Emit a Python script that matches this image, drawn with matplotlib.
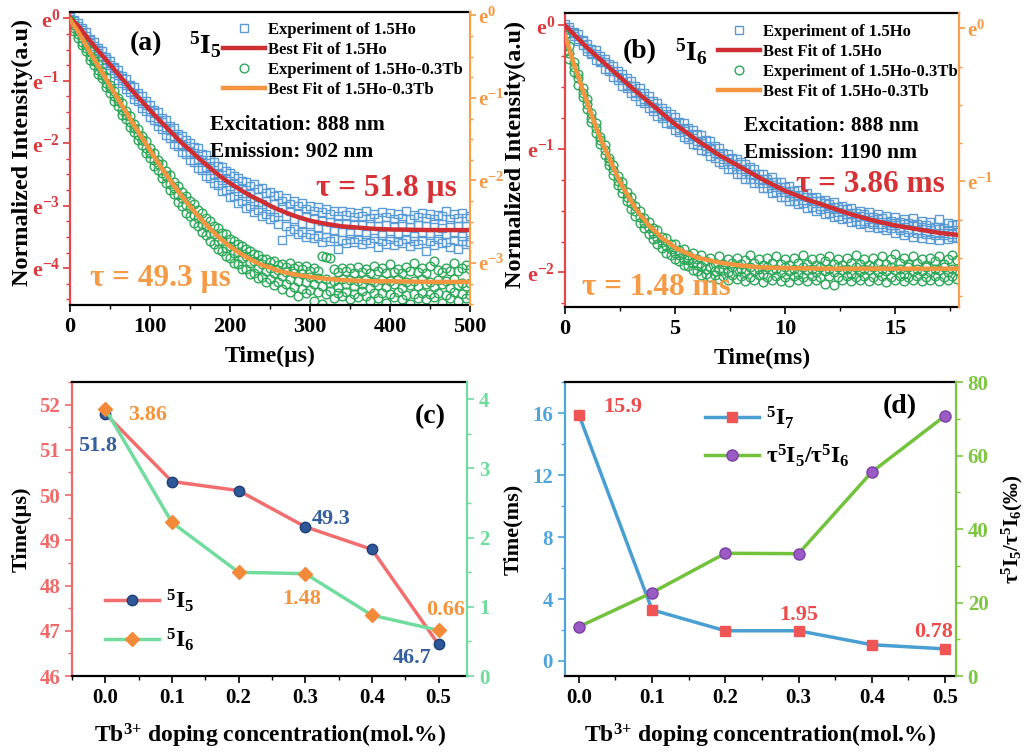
import numpy as np
import matplotlib.pyplot as plt
from matplotlib.ticker import MultipleLocator, FuncFormatter

plt.rcParams['font.family'] = ['Liberation Serif', 'DejaVu Serif']
plt.rcParams['font.weight'] = 'bold'
plt.rcParams['axes.labelweight'] = 'bold'
plt.rcParams['mathtext.default'] = 'regular'

# ---------------- (a) 5I5 decay, ln(I) values ----------------
t_a = np.arange(0, 505, 5)  # us
ho_a_1 = [0.02, -0.03, -0.07, -0.16, -0.22, -0.33, -0.38, -0.47, -0.52, -0.62,
          -0.68, -0.78, -0.82, -0.92, -0.97, -1.06, -1.10, -1.20, -1.24, -1.33,
          -1.38, -1.47, -1.50, -1.60, -1.63, -1.72, -1.76, -1.85, -1.88, -1.95,
          -1.99, -2.06, -2.08, -2.17, -2.19, -2.27, -2.30, -2.36, -2.38, -2.45,
          -2.47, -2.52, -2.55, -2.60, -2.62, -2.68, -2.66, -2.74, -2.72, -2.80,
          -2.78, -2.85, -2.83, -2.92, -2.88, -2.97, -2.93, -3.00, -2.96, -3.05,
          -3.00, -3.08, -3.02, -3.10, -3.05, -3.13, -3.08, -3.16, -3.09, -3.15,
          -3.10, -3.18, -3.12, -3.17, -3.08, -3.19, -3.13, -3.20, -3.10, -3.18,
          -3.12, -3.21, -3.14, -3.19, -3.08, -3.22, -3.15, -3.18, -3.11, -3.20,
          -3.13, -3.21, -3.15, -3.17, -3.09, -3.22, -3.14, -3.19, -3.12, -3.20,
          -3.16]
ho_a_2 = [-0.04, -0.10, -0.17, -0.24, -0.34, -0.40, -0.51, -0.56, -0.67, -0.72,
          -0.82, -0.88, -0.98, -1.03, -1.13, -1.18, -1.29, -1.33, -1.43, -1.48,
          -1.58, -1.62, -1.73, -1.77, -1.87, -1.91, -2.01, -2.04, -2.14, -2.18,
          -2.27, -2.30, -2.40, -2.43, -2.52, -2.55, -2.64, -2.67, -2.76, -2.75,
          -2.86, -2.85, -2.95, -2.93, -3.03, -3.00, -3.10, -3.07, -3.16, -3.13,
          -3.21, -3.18, -3.30, -3.55, -3.33, -3.40, -3.37, -3.46, -3.42, -3.50,
          -3.45, -3.52, -3.48, -3.58, -3.50, -3.56, -3.52, -3.70, -3.55, -3.60,
          -3.54, -3.58, -3.53, -3.62, -3.55, -3.60, -3.52, -3.66, -3.56, -3.61,
          -3.54, -3.63, -3.57, -3.60, -3.53, -3.64, -3.56, -3.62, -3.55, -3.72,
          -3.57, -3.63, -3.54, -3.60, -3.58, -3.66, -3.55, -3.70, -3.57, -3.62,
          -3.58]
ho_a_3 = [-0.01, -0.05, -0.13, -0.19, -0.29, -0.35, -0.45, -0.50, -0.60, -0.65,
          -0.75, -0.80, -0.91, -0.95, -1.06, -1.09, -1.21, -1.24, -1.35, -1.38,
          -1.49, -1.52, -1.64, -1.66, -1.77, -1.79, -1.90, -1.92, -2.03, -2.04,
          -2.14, -2.15, -2.26, -2.27, -2.38, -2.36, -2.49, -2.47, -2.59, -2.56,
          -2.69, -2.64, -2.77, -2.72, -2.85, -2.80, -2.92, -2.86, -2.98, -2.92,
          -3.05, -2.98, -3.10, -3.02, -3.16, -3.08, -3.22, -3.12, -3.27, -3.17,
          -3.30, -3.20, -3.34, -3.24, -3.38, -3.26, -3.40, -3.28, -3.42, -3.30,
          -3.44, -3.29, -3.42, -3.31, -3.46, -3.30, -3.43, -3.33, -3.47, -3.31,
          -3.44, -3.32, -3.46, -3.30, -3.42, -3.34, -3.48, -3.31, -3.44, -3.33,
          -3.47, -3.30, -3.43, -3.35, -3.46, -3.31, -3.44, -3.33, -3.48, -3.32,
          -3.42]
hotb_a_1 = [-0.02, -0.10, -0.21, -0.31, -0.43, -0.52, -0.65, -0.73, -0.86, -0.94,
            -1.07, -1.16, -1.28, -1.36, -1.49, -1.57, -1.69, -1.77, -1.89, -1.97,
            -2.08, -2.15, -2.27, -2.33, -2.45, -2.51, -2.62, -2.68, -2.78, -2.84,
            -2.93, -2.98, -3.07, -3.12, -3.20, -3.24, -3.32, -3.36, -3.44, -3.46,
            -3.54, -3.56, -3.62, -3.64, -3.70, -3.72, -3.78, -3.79, -3.85, -3.86,
            -3.90, -3.88, -3.95, -3.93, -3.98, -3.92, -4.00, -3.97, -4.02, -3.96,
            -4.04, -3.99, -4.05, -3.80, -3.82, -3.84, -4.02, -4.06, -3.99, -4.05,
            -4.00, -4.07, -3.98, -4.06, -4.01, -4.08, -3.97, -4.05, -4.00, -4.07,
            -3.94, -4.06, -4.01, -4.08, -3.98, -4.04, -3.92, -4.06, -4.00, -4.07,
            -3.96, -3.88, -4.03, -4.06, -3.99, -4.05, -3.92, -4.04, -4.00, -3.95,
            -4.02]
hotb_a_2 = [-0.08, -0.20, -0.31, -0.43, -0.53, -0.66, -0.75, -0.89, -0.96, -1.10,
            -1.19, -1.32, -1.40, -1.54, -1.61, -1.74, -1.82, -1.95, -2.03, -2.15,
            -2.24, -2.36, -2.43, -2.56, -2.63, -2.75, -2.82, -2.94, -3.00, -3.11,
            -3.17, -3.27, -3.33, -3.42, -3.47, -3.56, -3.61, -3.70, -3.73, -3.81,
            -3.84, -3.92, -3.93, -4.01, -4.02, -4.10, -4.08, -4.16, -4.14, -4.22,
            -4.18, -4.27, -4.22, -4.33, -4.26, -4.38, -4.30, -4.45, -4.33, -4.40,
            -4.35, -4.52, -4.38, -4.57, -4.42, -4.36, -4.48, -4.40, -4.45, -4.38,
            -4.50, -4.41, -4.46, -4.37, -4.44, -4.52, -4.40, -4.47, -4.39, -4.55,
            -4.42, -4.46, -4.38, -4.49, -4.43, -4.58, -4.41, -4.47, -4.39, -4.50,
            -4.42, -4.46, -4.40, -4.55, -4.43, -4.48, -4.38, -4.52, -4.41, -4.47,
            -4.43]
hotb_a_3 = [-0.04, -0.16, -0.25, -0.38, -0.47, -0.60, -0.69, -0.82, -0.90, -1.03,
            -1.12, -1.25, -1.33, -1.46, -1.54, -1.66, -1.75, -1.87, -1.95, -2.07,
            -2.15, -2.27, -2.34, -2.47, -2.53, -2.65, -2.71, -2.83, -2.88, -2.99,
            -3.03, -3.15, -3.19, -3.30, -3.32, -3.43, -3.45, -3.56, -3.57, -3.67,
            -3.65, -3.76, -3.74, -3.84, -3.81, -3.92, -3.88, -3.99, -3.94, -4.05,
            -3.99, -4.08, -4.03, -4.13, -4.06, -4.17, -4.08, -4.20, -4.10, -4.22,
            -4.14, -4.25, -4.16, -4.28, -4.18, -4.24, -4.20, -4.30, -4.17, -4.26,
            -4.19, -4.29, -4.21, -4.25, -4.18, -4.31, -4.22, -4.27, -4.19, -4.30,
            -4.21, -4.26, -4.18, -4.32, -4.22, -4.27, -4.20, -4.29, -4.17, -4.25,
            -4.22, -4.30, -4.19, -4.26, -4.21, -4.31, -4.18, -4.27, -4.23, -4.28,
            -4.24]
fit_t_a = [0, 10, 20, 30, 40, 50, 60, 70, 80, 90, 100, 110, 120, 130, 140, 150,
           160, 170, 180, 190, 200, 210, 220, 230, 240, 250, 260, 270, 280, 290,
           300, 320, 340, 360, 380, 400, 450, 500]
fit_ho_a = [0, -0.12, -0.28, -0.44, -0.59, -0.74, -0.89, -1.04, -1.19, -1.33,
            -1.47, -1.61, -1.74, -1.87, -2.00, -2.11, -2.23, -2.34, -2.45, -2.55,
            -2.64, -2.72, -2.80, -2.87, -2.93, -3.00, -3.06, -3.11, -3.16, -3.20,
            -3.24, -3.29, -3.33, -3.35, -3.37, -3.38, -3.39, -3.39]
fit_hotb_a = [-0.02, -0.21, -0.43, -0.65, -0.86, -1.08, -1.29, -1.50, -1.71, -1.91,
              -2.11, -2.31, -2.50, -2.68, -2.85, -3.01, -3.16, -3.30, -3.43, -3.55,
              -3.65, -3.74, -3.82, -3.89, -3.95, -3.99, -4.04, -4.07, -4.10, -4.12,
              -4.14, -4.17, -4.19, -4.20, -4.21, -4.21, -4.22, -4.22]

# ---------------- (b) 5I6 decay ----------------
t_b = np.round(np.arange(0, 17.81, 0.2), 1)  # ms
ho_b_1 = [0.01, -0.01, -0.05, -0.07, -0.12, -0.15, -0.19, -0.20, -0.25, -0.27,
          -0.31, -0.33, -0.37, -0.39, -0.43, -0.45, -0.49, -0.51, -0.55, -0.57,
          -0.61, -0.63, -0.67, -0.69, -0.72, -0.74, -0.78, -0.79, -0.83, -0.85,
          -0.88, -0.89, -0.93, -0.94, -0.98, -0.99, -1.03, -1.04, -1.07, -1.08,
          -1.11, -1.12, -1.15, -1.16, -1.20, -1.20, -1.24, -1.23, -1.27, -1.27,
          -1.31, -1.30, -1.34, -1.33, -1.37, -1.36, -1.40, -1.39, -1.42, -1.41,
          -1.45, -1.43, -1.47, -1.46, -1.49, -1.48, -1.52, -1.50, -1.53, -1.51,
          -1.55, -1.53, -1.56, -1.54, -1.58, -1.55, -1.59, -1.57, -1.60, -1.56,
          -1.61, -1.58, -1.62, -1.59, -1.63, -1.57, -1.64, -1.60, -1.62, -1.61]
ho_b_2 = [-0.03, -0.06, -0.09, -0.13, -0.16, -0.21, -0.23, -0.28, -0.30, -0.35,
          -0.37, -0.42, -0.44, -0.49, -0.51, -0.55, -0.57, -0.61, -0.63, -0.67,
          -0.69, -0.73, -0.75, -0.79, -0.80, -0.85, -0.86, -0.90, -0.92, -0.96,
          -0.97, -1.01, -1.02, -1.06, -1.07, -1.11, -1.12, -1.16, -1.16, -1.20,
          -1.20, -1.24, -1.24, -1.28, -1.28, -1.32, -1.32, -1.36, -1.35, -1.39,
          -1.39, -1.42, -1.42, -1.45, -1.44, -1.48, -1.47, -1.50, -1.49, -1.53,
          -1.52, -1.55, -1.54, -1.57, -1.56, -1.59, -1.58, -1.61, -1.60, -1.63,
          -1.61, -1.64, -1.63, -1.66, -1.64, -1.68, -1.66, -1.70, -1.67, -1.71,
          -1.68, -1.72, -1.69, -1.73, -1.70, -1.74, -1.70, -1.73, -1.71, -1.72]
ho_b_3 = [-0.01, -0.04, -0.06, -0.11, -0.13, -0.18, -0.22, -0.23, -0.29, -0.30,
          -0.35, -0.37, -0.42, -0.43, -0.48, -0.49, -0.54, -0.55, -0.60, -0.61,
          -0.66, -0.67, -0.72, -0.73, -0.78, -0.79, -0.83, -0.84, -0.88, -0.89,
          -0.94, -0.94, -0.98, -0.99, -1.03, -1.04, -1.08, -1.08, -1.12, -1.12,
          -1.16, -1.16, -1.20, -1.20, -1.24, -1.24, -1.28, -1.27, -1.31, -1.31,
          -1.35, -1.34, -1.38, -1.37, -1.41, -1.39, -1.42, -1.42, -1.46, -1.44,
          -1.48, -1.47, -1.51, -1.49, -1.53, -1.52, -1.55, -1.54, -1.58, -1.55,
          -1.59, -1.57, -1.61, -1.59, -1.62, -1.60, -1.64, -1.61, -1.65, -1.62,
          -1.66, -1.63, -1.67, -1.64, -1.68, -1.65, -1.68, -1.66, -1.69, -1.66]
hotb_b_1 = [-0.08, -0.17, -0.30, -0.39, -0.51, -0.60, -0.71, -0.79, -0.90, -0.97,
            -1.07, -1.13, -1.22, -1.27, -1.35, -1.39, -1.46, -1.50, -1.56, -1.59,
            -1.64, -1.66, -1.71, -1.72, -1.77, -1.77, -1.82, -1.81, -1.86, -1.84,
            -1.89, -1.86, -1.91, -1.88, -1.92, -1.87, -1.93, -1.89, -1.92, -1.88,
            -1.93, -1.90, -1.86, -1.92, -1.89, -1.94, -1.88, -1.92, -1.87, -1.93,
            -1.89, -1.94, -1.88, -1.92, -1.86, -1.93, -1.89, -1.94, -1.88, -1.91,
            -1.87, -1.93, -1.89, -1.94, -1.88, -1.92, -1.86, -1.93, -1.89, -1.94,
            -1.88, -1.92, -1.87, -1.93, -1.89, -1.85, -1.92, -1.88, -1.93, -1.87,
            -1.92, -1.89, -1.94, -1.88, -1.91, -1.87, -1.93, -1.89, -1.86, -1.90]
hotb_b_2 = [-0.20, -0.27, -0.38, -0.48, -0.58, -0.68, -0.78, -0.87, -0.96, -1.05,
            -1.13, -1.21, -1.29, -1.36, -1.42, -1.49, -1.54, -1.60, -1.64, -1.69,
            -1.73, -1.77, -1.80, -1.84, -1.86, -1.89, -1.91, -1.94, -1.95, -1.98,
            -1.99, -2.02, -2.01, -2.04, -2.02, -2.05, -2.03, -2.06, -2.02, -2.05,
            -2.03, -2.07, -2.04, -2.06, -2.02, -2.08, -2.04, -2.06, -2.03, -2.07,
            -2.04, -2.08, -2.03, -2.06, -2.04, -2.07, -2.03, -2.06, -2.04, -2.09,
            -2.03, -2.10, -2.04, -2.06, -2.03, -2.07, -2.04, -2.06, -2.03, -2.07,
            -2.04, -2.06, -2.03, -2.08, -2.04, -2.06, -2.03, -2.07, -2.04, -2.06,
            -2.03, -2.07, -2.04, -2.06, -2.03, -2.07, -2.04, -2.06, -2.03, -2.05]
hotb_b_3 = [-0.14, -0.22, -0.34, -0.43, -0.55, -0.64, -0.75, -0.83, -0.93, -1.01,
            -1.10, -1.17, -1.26, -1.32, -1.39, -1.44, -1.50, -1.55, -1.60, -1.64,
            -1.68, -1.72, -1.75, -1.79, -1.81, -1.84, -1.86, -1.89, -1.90, -1.92,
            -1.94, -1.95, -1.97, -1.96, -1.99, -1.97, -1.98, -2.00, -1.96, -1.99,
            -1.97, -2.00, -1.96, -1.99, -1.97, -2.01, -1.96, -1.98, -1.97, -2.00,
            -1.96, -1.99, -1.97, -2.01, -1.96, -1.98, -1.97, -2.00, -1.96, -1.99,
            -1.97, -2.00, -1.96, -1.98, -1.97, -2.01, -1.96, -1.99, -1.97, -1.98,
            -1.96, -2.00, -1.97, -1.99, -1.96, -1.98, -1.97, -2.01, -1.96, -1.99,
            -1.97, -1.99, -1.96, -2.00, -1.97, -1.98, -1.96, -2.00, -1.97, -1.98]
fit_t_ho_b = [0, 1, 2, 3, 4, 5, 6, 7, 8, 9, 10, 11, 12, 13, 14, 15, 16, 17, 18]
fit_ho_b = [0, -0.18, -0.34, -0.50, -0.65, -0.80, -0.93, -1.05, -1.15, -1.25,
            -1.34, -1.41, -1.47, -1.53, -1.58, -1.62, -1.65, -1.68, -1.70]
fit_t_hotb_b = [0, 0.2, 0.4, 0.6, 0.8, 1.0, 1.2, 1.4, 1.6, 1.8, 2.0, 2.2, 2.4, 2.6,
                2.8, 3.0, 3.2, 3.4, 3.6, 3.8, 4.0, 4.4, 4.8, 5.0, 5.5, 6, 6.5, 7,
                8, 9, 10, 12, 14, 16, 18]
fit_hotb_b = [-0.08, -0.19, -0.31, -0.41, -0.52, -0.62, -0.72, -0.82, -0.91, -0.99,
              -1.07, -1.15, -1.23, -1.30, -1.36, -1.42, -1.48, -1.53, -1.57, -1.62,
              -1.65, -1.72, -1.77, -1.80, -1.84, -1.88, -1.90, -1.92, -1.945, -1.96,
              -1.965, -1.97, -1.97, -1.97, -1.97]

# ---------------- (c), (d) lifetimes vs Tb3+ ----------------
conc = [0.0, 0.1, 0.2, 0.3, 0.4, 0.5]
tau_i5 = [51.8, 50.3, 50.1, 49.3, 48.8, 46.7]   # us
tau_i6 = [3.86, 2.22, 1.50, 1.48, 0.88, 0.66]   # ms
tau_i7 = [15.9, 3.3, 1.95, 1.95, 1.05, 0.78]    # ms
ratio = [13.4, 22.7, 33.4, 33.3, 55.5, 70.8]    # per mille


def e_fmt(v, pos):
    return 'e$^{%d}$' % int(round(v))


RED, ORANGE = '#dc3a3e', '#f59a45'
BLUE_SQ, GREEN_C = '#5b9bd5', '#2ea85a'
FIT_RED, FIT_OR = '#cf2f32', '#f5953f'

fig = plt.figure(figsize=(10.29, 7.55), dpi=100)


def decay_panel(rect, t, blue_sets, green_sets, ft1, f1, ft2, f2, xlim, ylim, ylim_r, xmaj, xmin):
    ax = fig.add_axes(rect)
    for k, d in enumerate(blue_sets):
        ax.plot(t, d, ls='none', marker='s', ms=5.8, mfc='none', mec=BLUE_SQ, mew=1,
                label='Experiment of 1.5Ho' if k == 0 else None, zorder=2)
    for k, g in enumerate(green_sets):
        ax.plot(t, g, ls='none', marker='o', ms=6.3, mfc='none', mec=GREEN_C, mew=1,
                label='Experiment of 1.5Ho-0.3Tb' if k == 0 else None, zorder=2)
    ax.plot(ft1, f1, color=FIT_RED, lw=3.2, label='Best Fit of 1.5Ho', zorder=4)
    ax.plot(ft2, f2, color=FIT_OR, lw=3.2, label='Best Fit of 1.5Ho-0.3Tb', zorder=4)
    ax.set_xlim(*xlim)
    ax.set_ylim(*ylim)
    ax.xaxis.set_major_locator(MultipleLocator(xmaj))
    ax.xaxis.set_minor_locator(MultipleLocator(xmin))
    ax.yaxis.set_major_locator(MultipleLocator(1))
    ax.yaxis.set_minor_locator(MultipleLocator(0.25))
    ax.yaxis.set_major_formatter(FuncFormatter(e_fmt))
    ax.tick_params(axis='y', which='both', colors=RED, labelsize=16, pad=2)
    ax.tick_params(axis='x', labelsize=16)
    ax.tick_params(which='major', length=5, width=1.2)
    ax.tick_params(which='minor', length=3, width=1)
    ax.spines['left'].set_color('#e2474b')
    ax.spines['right'].set_visible(False)
    for s in ('left', 'top', 'bottom'):
        ax.spines[s].set_linewidth(1.6)
    tw = ax.twinx()
    tw.set_ylim(*ylim_r)
    tw.yaxis.set_major_locator(MultipleLocator(1))
    tw.yaxis.set_minor_locator(MultipleLocator(0.25))
    tw.yaxis.set_major_formatter(FuncFormatter(e_fmt))
    tw.tick_params(axis='y', which='both', colors=ORANGE, labelsize=15, pad=1.5)
    tw.tick_params(which='major', length=4.5, width=1.2)
    tw.tick_params(which='minor', length=2.5, width=1)
    for s in ('left', 'top', 'bottom'):
        tw.spines[s].set_visible(False)
    tw.spines['right'].set_color('#f7a04b')
    tw.spines['right'].set_linewidth(1.6)
    h, l = ax.get_legend_handles_labels()
    order = [0, 2, 1, 3]
    return ax, [h[i] for i in order], [l[i] for i in order]


LEG_KW = dict(loc='upper left', frameon=False, fontsize=12, handlelength=2.5,
              handletextpad=0.2, labelspacing=0.24, borderpad=0, borderaxespad=0)

# (a)
ax_a, h, l = decay_panel([0.068, 0.596, 0.3887, 0.388], t_a,
                         (ho_a_1, ho_a_2, ho_a_3), (hotb_a_1, hotb_a_2, hotb_a_3),
                         fit_t_a, fit_ho_a, fit_t_a, fit_hotb_a,
                         (0, 500), (-4.59, 0.1), (-3.51, 0.04), 100, 50)
ax_a.legend(h, l, bbox_to_anchor=(0.3825, 0.965), **LEG_KW)
ax_a.set_xlabel('Time(µs)', fontsize=17)
ax_a.xaxis.set_label_coords(0.5, -0.14)
ax_a.set_ylabel('Normalized Intensity(a.u)', fontsize=17.5)
ax_a.yaxis.set_label_coords(-0.0925, 0.52)
ax_a.text(0.19, 0.894, '(a)', transform=ax_a.transAxes, fontsize=20, ha='center', va='center')
ax_a.text(0.338, 0.887, r'$^{5}$I$_{5}$', transform=ax_a.transAxes, fontsize=20, ha='center', va='center')
ax_a.text(0.35, 0.614, 'Excitation: 888 nm', transform=ax_a.transAxes, fontsize=15.5, va='center')
ax_a.text(0.35, 0.522, 'Emission: 902 nm', transform=ax_a.transAxes, fontsize=15.5, va='center')
ax_a.text(0.9675, 0.399, 'τ = 51.8 µs', transform=ax_a.transAxes, fontsize=22.5,
          color='#d63235', ha='right', va='center')
ax_a.text(0.05, 0.092, 'τ = 49.3 µs', transform=ax_a.transAxes, fontsize=22.5,
          color=ORANGE, ha='left', va='center')

# (b)
ax_b, h, l = decay_panel([0.549, 0.5934, 0.383, 0.3894], t_b,
                         (ho_b_1, ho_b_2, ho_b_3), (hotb_b_1, hotb_b_2, hotb_b_3),
                         fit_t_ho_b, fit_ho_b, fit_t_hotb_b, fit_hotb_b,
                         (0, 17.9), (-2.28, 0.1), (-1.82, 0.1), 5, 2.5)
ax_b.legend(h, l, bbox_to_anchor=(0.388, 0.962), **LEG_KW)
ax_b.set_xlabel('Time(ms)', fontsize=17)
ax_b.xaxis.set_label_coords(0.5, -0.14)
ax_b.set_ylabel('Normalized Intensity(a.u)', fontsize=17.5)
ax_b.yaxis.set_label_coords(-0.099, 0.52)
ax_b.text(0.19, 0.867, '(b)', transform=ax_b.transAxes, fontsize=20, ha='center', va='center')
ax_b.text(0.322, 0.867, r'$^{5}$I$_{6}$', transform=ax_b.transAxes, fontsize=20, ha='center', va='center')
ax_b.text(0.454, 0.616, 'Excitation: 888 nm', transform=ax_b.transAxes, fontsize=15.5, va='center')
ax_b.text(0.454, 0.524, 'Emission: 1190 nm', transform=ax_b.transAxes, fontsize=15.5, va='center')
ax_b.text(0.964, 0.415, 'τ = 3.86 ms', transform=ax_b.transAxes, fontsize=22.5,
          color='#d63235', ha='right', va='center')
ax_b.text(0.043, 0.065, 'τ = 1.48 ms', transform=ax_b.transAxes, fontsize=22.5,
          color=ORANGE, ha='left', va='center')


def style_pair(ax, tw, lcol, rcol):
    ax.spines['left'].set_color(lcol)
    ax.spines['right'].set_visible(False)
    for s in ('left', 'top', 'bottom'):
        ax.spines[s].set_linewidth(1.6)
    for s in ('left', 'top', 'bottom'):
        tw.spines[s].set_visible(False)
    tw.spines['right'].set_color(rcol)
    tw.spines['right'].set_linewidth(1.6)
    ax.tick_params(axis='y', which='both', colors=lcol, labelsize=15)
    tw.tick_params(axis='y', which='both', colors=rcol, labelsize=15)
    ax.tick_params(axis='x', labelsize=15)
    for a in (ax, tw):
        a.tick_params(which='major', length=5, width=1.2)
        a.tick_params(which='minor', length=3, width=1)
    ax.xaxis.set_major_locator(MultipleLocator(0.1))
    ax.xaxis.set_minor_locator(MultipleLocator(0.05))
    ax.xaxis.set_major_formatter(FuncFormatter(lambda v, p: '%.1f' % v))


XLAB = 'Tb$^{3{+}}$ doping concentration(mol.%)'

# (c)
ax_c = fig.add_axes([0.070, 0.1046, 0.384, 0.3894])
tw_c = ax_c.twinx()
l1, = ax_c.plot(conc, tau_i5, color='#f26e6e', lw=2.5, marker='o', ms=7.5,
                mfc='#2d5797', mec='#1f3f78', label=r'$^{5}$I$_{5}$', zorder=3)
l2, = tw_c.plot(conc, tau_i6, color='#72dc9e', lw=2.5, marker='D', ms=7,
                mfc='#f28a3a', mec='#f28a3a', label=r'$^{5}$I$_{6}$', zorder=3)
ax_c.set_xlim(-0.05, 0.543)
ax_c.set_ylim(46, 52.5)
tw_c.set_ylim(0, 4.25)
ax_c.yaxis.set_major_locator(MultipleLocator(1))
ax_c.yaxis.set_minor_locator(MultipleLocator(0.5))
tw_c.yaxis.set_major_locator(MultipleLocator(1))
tw_c.yaxis.set_minor_locator(MultipleLocator(0.5))
style_pair(ax_c, tw_c, '#f06a6a', '#6fdc9c')
ax_c.set_xlabel(XLAB, fontsize=17)
ax_c.xaxis.set_label_coords(0.5, -0.156)
ax_c.set_ylabel('Time(µs)', fontsize=16, color='black')
ax_c.yaxis.set_label_coords(-0.101, 0.5)
tw_c.legend([l1, l2], [l1.get_label(), l2.get_label()], loc='upper left',
            bbox_to_anchor=(0.0835, 0.30), frameon=False, fontsize=17,
            handlelength=2.3, handletextpad=0.3, labelspacing=0.5,
            borderpad=0, borderaxespad=0)
tw_c.text(0.906, 0.881, '(c)', transform=tw_c.transAxes, fontsize=20, ha='center', va='center')
C_BLUE, C_OR = '#35609f', '#f5943c'
ax_c.text(-0.012, 51.08, '51.8', color=C_BLUE, fontsize=16, ha='center', va='center')
ax_c.text(0.339, 49.47, '49.3', color=C_BLUE, fontsize=16, ha='center', va='center')
ax_c.text(0.461, 46.39, '46.7', color=C_BLUE, fontsize=16, ha='center', va='center')
tw_c.text(0.063, 3.77, '3.86', color=C_OR, fontsize=16, ha='center', va='center')
tw_c.text(0.294, 1.12, '1.48', color=C_OR, fontsize=16, ha='center', va='center')
tw_c.text(0.510, 0.96, '0.66', color=C_OR, fontsize=16, ha='center', va='center')

# (d)
ax_d = fig.add_axes([0.549, 0.1046, 0.380, 0.3894])
tw_d = ax_d.twinx()
l3, = ax_d.plot(conc, tau_i7, color='#4a9fd2', lw=2.5, marker='s', ms=7.5,
                mfc='#f05555', mec='#f05555', label=r'$^{5}$I$_{7}$', zorder=3)
l4, = tw_d.plot(conc, ratio, color='#72c23c', lw=2.5, marker='o', ms=8,
                mfc='#9b5bc4', mec='#7d3fa6', label=r'τ$^{5}$I$_{5}$/τ$^{5}$I$_{6}$', zorder=3)
ax_d.set_xlim(-0.019, 0.515)
ax_d.set_ylim(-0.97, 18)
tw_d.set_ylim(0, 80)
ax_d.yaxis.set_major_locator(MultipleLocator(4))
ax_d.yaxis.set_minor_locator(MultipleLocator(2))
tw_d.yaxis.set_major_locator(MultipleLocator(20))
tw_d.yaxis.set_minor_locator(MultipleLocator(10))
style_pair(ax_d, tw_d, '#4ea4dc', '#7cc640')
ax_d.set_xlabel(XLAB, fontsize=17)
ax_d.xaxis.set_label_coords(0.5, -0.156)
ax_d.set_ylabel('Time(ms)', fontsize=16, color='black')
ax_d.yaxis.set_label_coords(-0.107, 0.5)
tw_d.set_ylabel(r'τ$^{5}$I$_{5}$/τ$^{5}$I$_{6}$(‰)', fontsize=15, color='black')
tw_d.yaxis.set_label_coords(1.113, 0.5)
tw_d.legend([l3, l4], [l3.get_label(), l4.get_label()], loc='upper left',
            bbox_to_anchor=(0.358, 0.925), frameon=False, fontsize=17,
            handlelength=2.3, handletextpad=0.3, labelspacing=0.5,
            borderpad=0, borderaxespad=0)
tw_d.text(0.857, 0.915, '(d)', transform=tw_d.transAxes, fontsize=20, ha='center', va='center')
D_RED = '#ee4c4c'
ax_d.text(0.060, 16.39, '15.9', color=D_RED, fontsize=16, ha='center', va='center')
ax_d.text(0.300, 2.97, '1.95', color=D_RED, fontsize=16, ha='center', va='center')
ax_d.text(0.485, 1.87, '0.78', color=D_RED, fontsize=16, ha='center', va='center')

fig.savefig('out.png', dpi=100)
